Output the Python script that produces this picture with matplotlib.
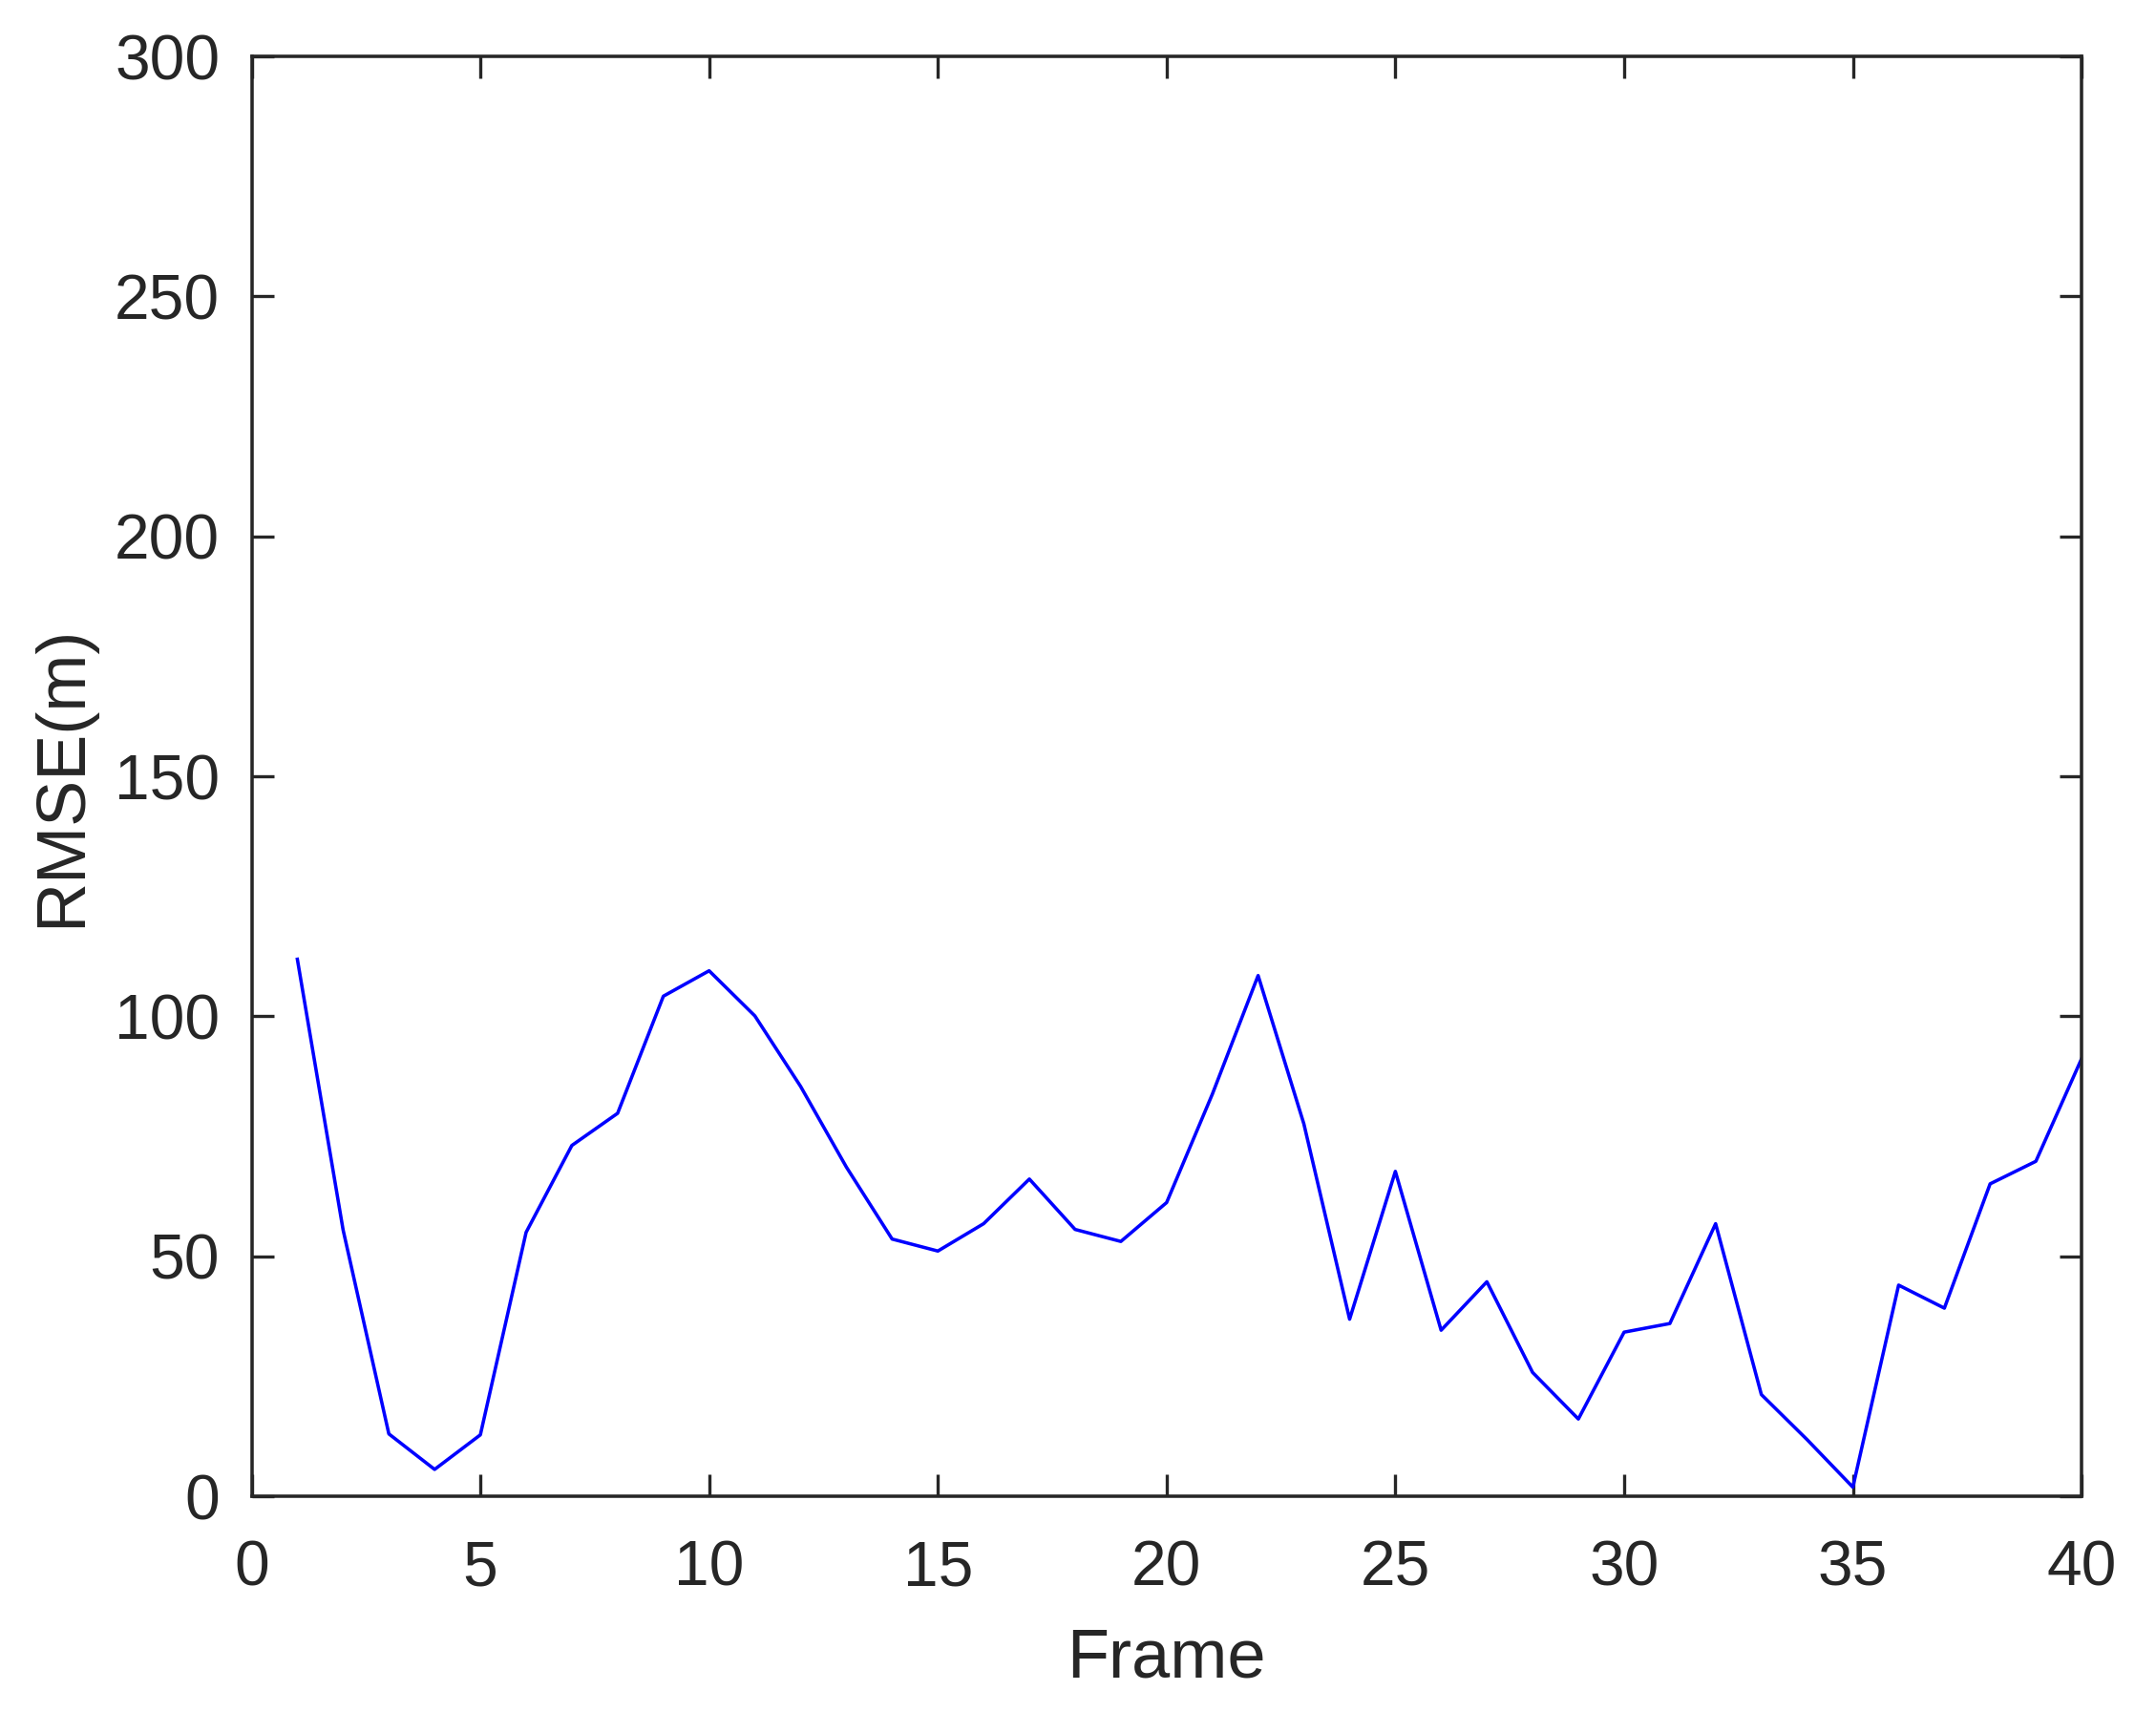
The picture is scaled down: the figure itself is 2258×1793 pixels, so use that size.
import matplotlib.pyplot as plt

# RMSE for each frame
frames = list(range(1, 41))
rmse = [111.9, 55.5, 13.0, 5.6, 12.8, 55.0, 73.1, 79.8, 104.2, 109.5,
        100.1, 85.4, 68.6, 53.6, 51.1, 56.8, 66.1, 55.6, 53.1, 61.2,
        83.8, 108.5, 77.6, 36.9, 67.7, 34.6, 44.7, 25.8, 16.1, 34.2,
        36.0, 56.8, 21.2, 11.8, 1.9, 44.0, 39.2, 65.1, 69.8, 91.2]

x_ticks = [0, 5, 10, 15, 20, 25, 30, 35, 40]
y_ticks = [0, 50, 100, 150, 200, 250, 300]

dark = '#262626'
plt.rcParams['font.family'] = ['Liberation Sans', 'DejaVu Sans']

fig = plt.figure(figsize=(2258 / 300, 1793 / 300), dpi=300)
ax = fig.add_axes([0.1167, 0.126, 0.8488, 0.841])

ax.plot(frames, rmse, color='#0000ff', linewidth=0.85)

ax.set_xlim(0, 40)
ax.set_ylim(0, 300)
ax.set_xticks(x_ticks)
ax.set_yticks(y_ticks)
ax.tick_params(direction='in', length=5.5, width=0.8, colors=dark,
               labelsize=15.8, top=True, right=True)
ax.tick_params(axis='x', pad=11)
ax.tick_params(axis='y', pad=8)
for s in ax.spines.values():
    s.set_color(dark)
    s.set_linewidth(0.85)

ax.set_xlabel('Frame', fontsize=17.3, color=dark, labelpad=7)
ax.set_ylabel('RMSE(m)', fontsize=17.3, color=dark, labelpad=5)

fig.savefig('out.png', dpi=300)
